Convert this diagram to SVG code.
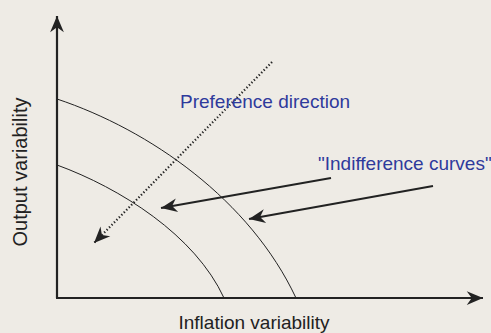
<svg xmlns="http://www.w3.org/2000/svg" width="491" height="333" viewBox="0 0 491 333">
<style>
.axis{stroke:#222;stroke-width:2.2;fill:none}
.curve{stroke:#222;stroke-width:1;fill:none}
.arr{stroke:#222;stroke-width:2;fill:none}
.dot{stroke:#222;stroke-width:2.2;fill:none;stroke-dasharray:1.3 2.2}
.lbl{font-family:"Liberation Sans",Arial,sans-serif;font-size:19px;fill:#222}
.blue{font-family:"Liberation Sans",Arial,sans-serif;font-size:19px;fill:#2e3a9c}
</style>
<defs>
<marker id="ah" markerUnits="userSpaceOnUse" markerWidth="20" markerHeight="20" viewBox="-14 -7 16 14" refX="0" refY="0" orient="auto">
<path d="M0,0 L-13,-5.5 L-9,0 L-13,5.5 Z" fill="#222"/>
</marker>
</defs>
<rect width="491" height="333" fill="#eeebe5"/>
<g id="connectors">
<line class="axis" x1="57" y1="298" x2="57" y2="16" marker-end="url(#ah)"/>
<line class="axis" x1="56" y1="298" x2="483" y2="298" marker-end="url(#ah)"/>
<path class="curve" d="M57,99 C150,130 250,200 296,298"/>
<path class="curve" d="M57,165 C120,188 195,235 224,298"/>
<line class="dot" x1="272" y1="62" x2="94" y2="243" marker-end="url(#ah)"/>
<line class="arr" x1="331" y1="178" x2="161" y2="208" marker-end="url(#ah)"/>
<line class="arr" x1="433" y1="186" x2="249" y2="219" marker-end="url(#ah)"/>
</g>
<g id="label-pref"><text class="blue" x="180" y="108">Preference direction</text></g>
<g id="label-indiff"><text class="blue" x="318" y="170">"Indifference curves"</text></g>
<g id="label-y"><text class="lbl" transform="translate(27,172) rotate(-90)" text-anchor="middle" style="font-size:20px">Output variability</text></g>
<g id="label-x"><text class="lbl" x="254" y="329" text-anchor="middle">Inflation variability</text></g>
</svg>
